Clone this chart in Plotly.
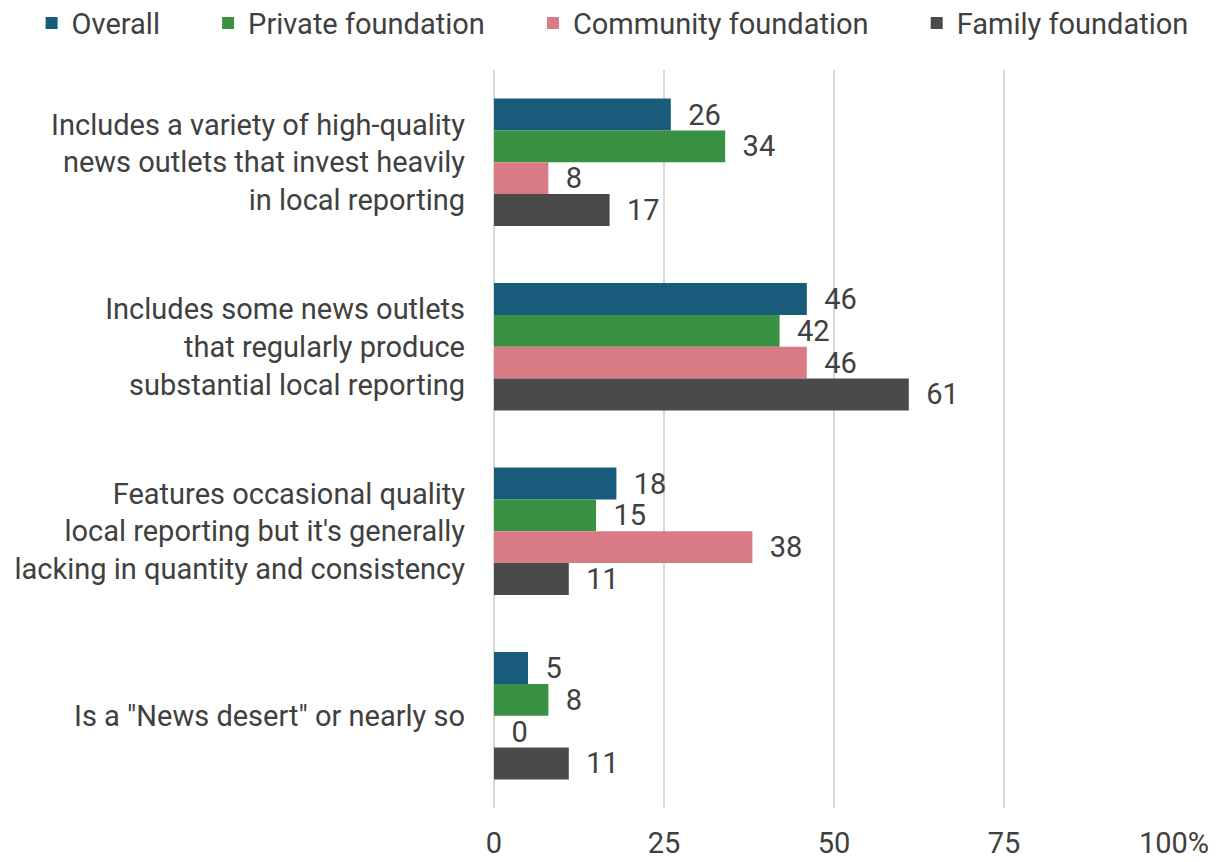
import plotly.graph_objects as go

categories = [
    "Includes a variety of high-quality<br>news outlets that invest heavily<br>in local reporting",
    "Includes some news outlets<br>that regularly produce<br>substantial local reporting",
    "Features occasional quality<br>local reporting but it's generally<br>lacking in quantity and consistency",
    "Is a \"News desert\" or nearly so",
]
series_names = ["Overall", "Private foundation", "Community foundation", "Family foundation"]
overall = [26, 46, 18, 5]
private_foundation = [34, 42, 15, 8]
community_foundation = [8, 46, 38, 0]
family_foundation = [17, 61, 11, 11]
tick_values = [0, 25, 50, 75, 100]
tick_labels = ["0", "25", "50", "75", "100%"]

colors = ["#185b7b", "#3a9143", "#d97b87", "#4a4a4a"]
text_color = "#404040"
font_family = "Roboto"
font_size = 29
pad = "\u00a0\u00a0"

fig = go.Figure()
all_values = [overall, private_foundation, community_foundation, family_foundation]
for i, (name, values, color) in enumerate(zip(series_names, all_values, colors)):
    trailing = "" if i == len(series_names) - 1 else "\u00a0" * 6
    fig.add_trace(
        go.Bar(
            name=name + trailing,
            y=categories,
            x=values,
            orientation="h",
            marker=dict(color=color, line=dict(width=0)),
            text=[pad + str(v) for v in values],
            textposition="outside",
            constraintext="none",
            textfont=dict(family=font_family, size=font_size, color=text_color),
            cliponaxis=False,
        )
    )

fig.update_layout(
    barmode="group",
    bargap=0.31,
    bargroupgap=0,
    width=1229,
    height=862,
    margin=dict(l=494, r=55, t=70, b=54, autoexpand=False),
    plot_bgcolor="white",
    paper_bgcolor="white",
    font=dict(family=font_family, size=font_size, color=text_color),
    legend=dict(
        orientation="h",
        x=-0.68,
        xanchor="left",
        y=1.098,
        yanchor="top",
        font=dict(family=font_family, size=font_size, color=text_color),
        itemwidth=30,
    ),
)
fig.update_xaxes(
    range=[0, 100],
    tickvals=tick_values,
    ticktext=tick_labels,
    showgrid=True,
    gridcolor="#d9d9d9",
    gridwidth=2,
    zeroline=True,
    zerolinecolor="#d9d9d9",
    zerolinewidth=2,
    ticks="",
    ticklabelstandoff=15,
    automargin=False,
    tickfont=dict(family=font_family, size=font_size, color=text_color),
    fixedrange=True,
)
fig.update_yaxes(
    autorange="reversed",
    showgrid=False,
    ticks="",
    ticklabelstandoff=28,
    automargin=False,
    tickfont=dict(family=font_family, size=font_size, color=text_color),
    fixedrange=True,
)

fig.write_html("out.html")
